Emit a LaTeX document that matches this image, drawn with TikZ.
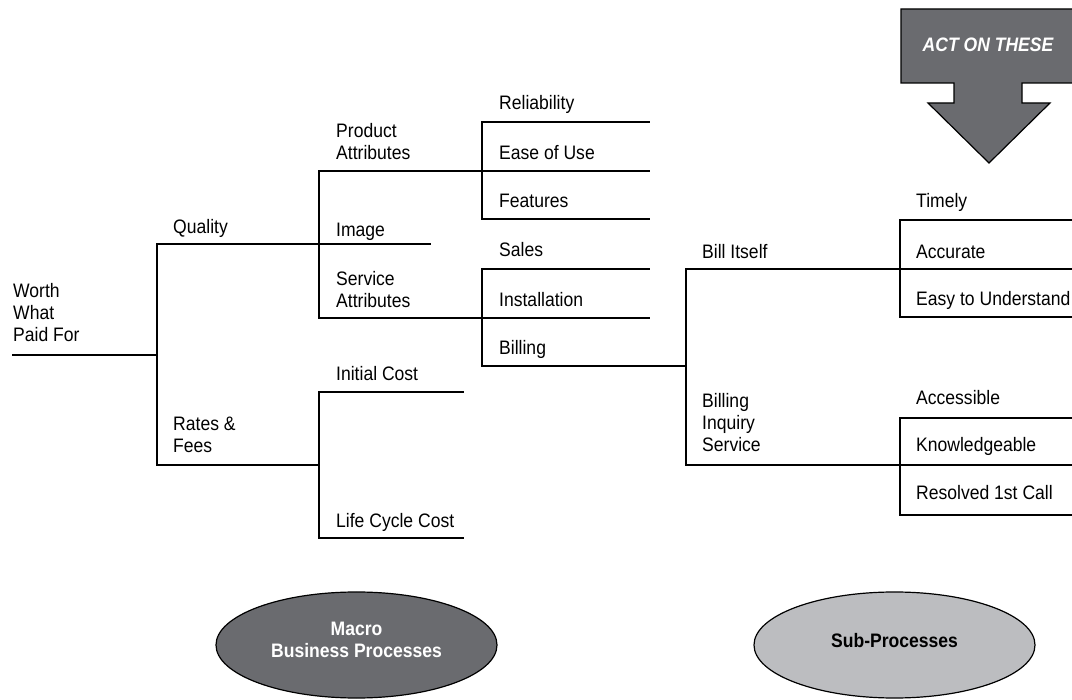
\documentclass[tikz,border=0pt]{standalone}
\usepackage{fontspec}
\setmainfont{Liberation Sans}[FakeStretch=0.9]
\usetikzlibrary{shapes.geometric}
\definecolor{darkfill}{HTML}{6A6B6F}
\definecolor{lightfill}{HTML}{BCBDC0}
\begin{document}
\begin{tikzpicture}[x=1pt,y=-1pt,
  lbl/.style={anchor=base west,inner sep=0pt,align=left,font=\fontsize{19.5}{22}\selectfont},
  tree/.style={line width=1.6pt,line cap=rect},
  ell/.style={ellipse,draw=black,line width=1.2pt,minimum width=281pt,minimum height=106pt,inner sep=0pt},
  elltext/.style={inner sep=0pt,align=center,font=\fontsize{19.5}{22}\selectfont\bfseries}
]
\useasboundingbox (0,0) rectangle (1072,700);

% ---------- junction coordinates ----------
\coordinate (r0) at (13,355);
\coordinate (r1) at (157,355);
\coordinate (q0) at (157,244);
\coordinate (f0) at (157,465);
\coordinate (q1) at (319,244);
\coordinate (img) at (430,244);
\coordinate (p0) at (319,171);
\coordinate (s0) at (319,318);
\coordinate (p1) at (482,171);
\coordinate (pe) at (649,171);
\coordinate (rl0) at (482,122);
\coordinate (rl1) at (649,122);
\coordinate (ft0) at (482,219);
\coordinate (ft1) at (649,219);
\coordinate (s1) at (482,318);
\coordinate (se) at (649,318);
\coordinate (sa0) at (482,269);
\coordinate (sa1) at (649,269);
\coordinate (bl0) at (482,366);
\coordinate (bl1) at (686,366);
\coordinate (bi0) at (686,269);
\coordinate (bq0) at (686,465);
\coordinate (bi1) at (900,269);
\coordinate (bie) at (1072,269);
\coordinate (tm0) at (900,220);
\coordinate (tm1) at (1072,220);
\coordinate (eu0) at (900,317);
\coordinate (eu1) at (1072,317);
\coordinate (bq1) at (900,465);
\coordinate (bqe) at (1072,465);
\coordinate (ac0) at (900,418);
\coordinate (ac1) at (1072,418);
\coordinate (rs0) at (900,515);
\coordinate (rs1) at (1072,515);
\coordinate (f1) at (319,465);
\coordinate (ic0) at (319,392);
\coordinate (ic1) at (463,392);
\coordinate (lc0) at (319,538);
\coordinate (lc1) at (463,538);

% ---------- tree lines ----------
\draw[tree] (r0) -- (r1);
\draw[tree] (q0) -- (f0);
\draw[tree] (q0) -- (q1) -- (img);
\draw[tree] (p0) -- (s0);
\draw[tree] (p0) -- (p1) -- (pe);
\draw[tree] (rl0) -- (ft0);
\draw[tree] (rl0) -- (rl1);
\draw[tree] (ft0) -- (ft1);
\draw[tree] (s0) -- (s1) -- (se);
\draw[tree] (sa0) -- (bl0);
\draw[tree] (sa0) -- (sa1);
\draw[tree] (bl0) -- (bl1);
\draw[tree] (bi0) -- (bq0);
\draw[tree] (bi0) -- (bi1) -- (bie);
\draw[tree] (tm0) -- (eu0);
\draw[tree] (tm0) -- (tm1);
\draw[tree] (eu0) -- (eu1);
\draw[tree] (bq0) -- (bq1) -- (bqe);
\draw[tree] (ac0) -- (rs0);
\draw[tree] (ac0) -- (ac1);
\draw[tree] (rs0) -- (rs1);
\draw[tree] (f0) -- (f1);
\draw[tree] (ic0) -- (lc0);
\draw[tree] (ic0) -- (ic1);
\draw[tree] (lc0) -- (lc1);

% ---------- labels (base = last line baseline) ----------
\node[lbl] (worth) at (13,342) {Worth\\What\\Paid For};
\node[lbl] (quality) at (173,234) {Quality};
\node[lbl] (rates) at (173,453) {Rates \&\\Fees};
\node[lbl] (prod) at (336,160) {Product\\Attributes};
\node[lbl] (image) at (336,237) {Image};
\node[lbl] (serv) at (336,308) {Service\\Attributes};
\node[lbl] (initial) at (336,381) {Initial Cost};
\node[lbl] (life) at (336,528) {Life Cycle Cost};
\node[lbl] (reli) at (499,110) {Reliability};
\node[lbl] (ease) at (499,160) {Ease of Use};
\node[lbl] (feat) at (499,208) {Features};
\node[lbl] (sales) at (499,257) {Sales};
\node[lbl] (inst) at (499,307) {Installation};
\node[lbl] (billing) at (499,355) {Billing};
\node[lbl] (billit) at (702,259) {Bill Itself};
\node[lbl] (binq) at (702,452) {Billing\\Inquiry\\Service};
\node[lbl] (timely) at (916,208) {Timely};
\node[lbl] (accurate) at (916,259) {Accurate};
\node[lbl] (easyu) at (916,306) {Easy to Understand};
\node[lbl] (access) at (916,405) {Accessible};
\node[lbl] (knowl) at (916,452) {Knowledgeable};
\node[lbl] (resolved) at (916,500) {Resolved 1st Call};

% ---------- block arrow ----------
\draw[fill=darkfill,line width=1.2pt,line join=miter]
  (901,9) -- (1080,9) -- (1080,83) -- (1022,83) -- (1022,103) -- (1050,103)
  -- (989,163) -- (928,103) -- (954,103) -- (954,83) -- (901,83) -- cycle;
\node[inner sep=0pt,anchor=base,text=white,font=\fontsize{19.5}{22}\selectfont\bfseries\itshape] (act) at (988,52) {ACT ON THESE};

% ---------- ellipses ----------
\node[ell,fill=darkfill] (macro) at (356.5,645) {};
\node[elltext,text=white,anchor=base] (macrotxt) at (356.5,657) {Macro\\Business Processes};
\node[ell,fill=lightfill] (sub) at (894.5,645) {};
\node[elltext,text=black,anchor=base] (subtxt) at (894.5,647) {Sub-Processes};
\end{tikzpicture}
\end{document}
